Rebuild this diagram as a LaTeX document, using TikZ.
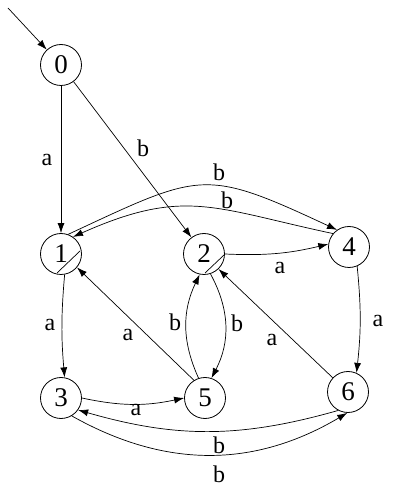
\documentclass[tikz,border=0pt]{standalone}
\usepackage{fontspec}
\setmainfont{Liberation Serif}
\usetikzlibrary{arrows.meta}
\begin{document}
\begin{tikzpicture}[x=1pt,y=1pt,
  state/.style={circle,draw,line width=0.8pt,minimum size=41pt,inner sep=0pt,font=\fontsize{27}{29}\selectfont},
  arr/.style={line width=0.7pt,-{Latex[length=10pt,width=7pt]}},
  lbl/.style={inner sep=0pt,font=\fontsize{24}{26}\selectfont},
  artifact/.style={line width=0.7pt}]
\useasboundingbox (0,0) rectangle (405,499);
\node[state] (n0) at (61,434) {0};
\node[state] (n1) at (61,245) {1};
\node[state] (n2) at (204,245) {2};
\node[state] (n4) at (349,252) {4};
\node[state] (n3) at (61,101) {3};
\node[state] (n5) at (205,101) {5};
\node[state] (n6) at (348,107) {6};
\coordinate (s) at (8,491);
% artifacts inside nodes
\draw[artifact] (57,226) -- (80,248);
\draw[artifact] (205,226) -- (224,244);
% edges
\draw[arr] (s) -- (n0);
\draw[arr] (n0) -- (n1);
\draw[arr] (n0) -- (n2);
\draw[arr] (n1.70) to[out=25,in=155,looseness=1.4] (n4.125);
\draw[arr] (n4.140) to[out=168,in=24,looseness=1.2] (n1.55);
\draw[arr] (n2.east) to[bend right=8] (n4.172);
\draw[arr] (n1.-80) to[bend right=5] (n3.80);
\draw[arr] (n5.122) -- (n1.-40);
\draw[arr] (n5.108) to[bend left=25] (n2.-102);
\draw[arr] (n2.-72) to[bend left=28] (n5.72);
\draw[arr] (n6.137) -- (n2.-46);
\draw[arr] (n4.-67) to[bend left=6] (n6.66);
\draw[arr] (n3.east) to[bend right=12] (n5.west);
\draw[arr] (n6.-118) to[bend left=16] (n3.-35);
\draw[arr] (n3.-59) to[bend right=30] (n6.-92);
% labels
\node[lbl] (l01) at (47,339) {a};
\node[lbl] (l02) at (143,351) {b};
\node[lbl] (l14) at (219,327) {b};
\node[lbl] (l41) at (227,299) {b};
\node[lbl] (l24) at (280,231) {a};
\node[lbl] (l13) at (50,174) {a};
\node[lbl] (l51) at (128,164) {a};
\node[lbl] (l52) at (175,177) {b};
\node[lbl] (l25) at (237,176) {b};
\node[lbl] (l62) at (272,159) {a};
\node[lbl] (l46) at (378,178) {a};
\node[lbl] (l35) at (136,89) {a};
\node[lbl] (l63) at (219,54) {b};
\node[lbl] (l36) at (219,25) {b};
\end{tikzpicture}
\end{document}
